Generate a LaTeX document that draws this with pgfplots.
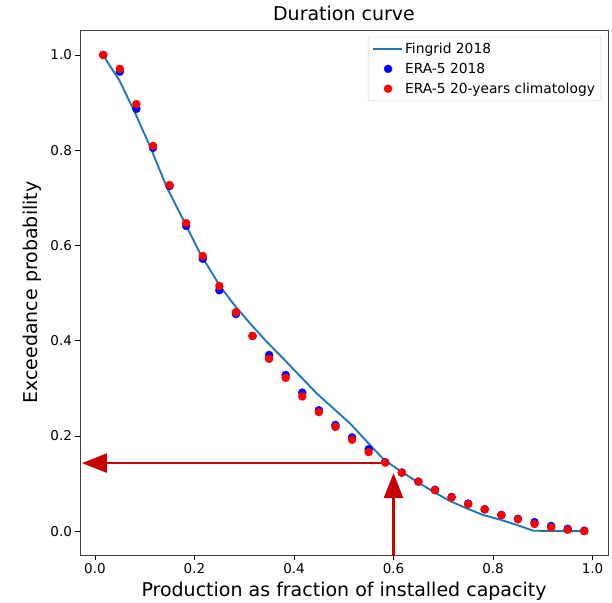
\documentclass[border=0pt]{standalone}
\usepackage{fontspec}
\setmainfont{DejaVu Sans}
\usepackage{pgfplots}
\pgfplotsset{compat=1.18}
\usetikzlibrary{arrows.meta}
\definecolor{mplblue}{HTML}{1F77B4}
\definecolor{arrowred}{RGB}{200,0,0}
\pgfplotsset{
  linelegend/.style={legend image code/.code={\draw[##1] (0pt,0pt) -- (29pt,0pt);}},
  dotlegend/.style={legend image code/.code={\path[draw=none] (0pt,0pt) -- (29pt,0pt); \draw[##1, draw=none] plot coordinates {(15pt,0pt)};}},
}

\begin{document}
\begin{tikzpicture}[x=1pt,y=1pt]
\useasboundingbox (-80,-47) rectangle (532,555);
\begin{axis}[
  at={(0,0)}, anchor=south west,
  scale only axis, width=528pt, height=525pt,
  xmin=-0.03, xmax=1.031, ymin=-0.05, ymax=1.0525,
  xtick={0,0.2,0.4,0.6,0.8,1.0},
  ytick={0,0.2,0.4,0.6,0.8,1.0},
  xtick pos=bottom, ytick pos=left,
  tick align=outside, major tick length=4.5pt,
  tick style={black, line width=0.8pt},
  axis line style={black!75, line width=0.9pt},
  /pgf/number format/assume math mode=true,
  /pgf/number format/.cd, fixed, fixed zerofill, precision=1, /pgfplots/.cd,
  tick label style={font=\fontsize{13.5}{16}\selectfont},
  title={Duration curve},
  title style={font=\fontsize{19}{23}\selectfont, at={(axis description cs:0.5,1)}, anchor=south, yshift=0pt},
  xlabel={Production as fraction of installed capacity},
  ylabel={Exceedance probability},
  xlabel style={font=\fontsize{19}{23}\selectfont, at={(axis description cs:0.5,0)}, anchor=base, yshift=-41pt},
  ylabel style={font=\fontsize{19}{23}\selectfont, at={(axis description cs:0,0.5)}, anchor=base, yshift=42pt},
  legend style={at={(0.987,0.987)}, anchor=north east, draw=black!20, rounded corners=2pt,
    font=\fontsize{13.8}{16}\selectfont, row sep=4pt, inner sep=4pt,
    /tikz/every even column/.append style={column sep=3pt}},
  legend cell align=left,
]
\addplot[mplblue, line width=1.9pt, linelegend] coordinates {
  (0.016,1.0) (0.049,0.947) (0.080,0.880) (0.114,0.800) (0.144,0.723) (0.178,0.653)
  (0.211,0.584) (0.251,0.515) (0.280,0.475) (0.312,0.436) (0.345,0.398) (0.378,0.363)
  (0.412,0.326) (0.446,0.289) (0.480,0.257) (0.513,0.226) (0.536,0.200) (0.559,0.174)
  (0.581,0.150) (0.613,0.127) (0.647,0.104) (0.68,0.083) (0.714,0.063) (0.747,0.048)
  (0.780,0.034) (0.815,0.024) (0.848,0.013) (0.881,0.001) (0.95,0.0) (0.983,0.0)
};
\addlegendentry{Fingrid 2018}
\addplot[only marks, mark=*, mark size=4pt, color=blue, dotlegend] coordinates {
  (0.0167,1.0) (0.05,0.965) (0.0833,0.887) (0.1167,0.805) (0.15,0.725) (0.1833,0.641)
  (0.2167,0.572) (0.25,0.506) (0.2833,0.456) (0.3167,0.410) (0.35,0.370) (0.3833,0.328)
  (0.4167,0.291) (0.45,0.254) (0.4833,0.223) (0.5167,0.197) (0.55,0.172) (0.5833,0.145)
  (0.6167,0.123) (0.65,0.104) (0.6833,0.087) (0.7167,0.072) (0.75,0.058) (0.7833,0.046)
  (0.8167,0.034) (0.85,0.026) (0.8833,0.019) (0.9167,0.011) (0.95,0.005) (0.9833,0.001)
};
\addlegendentry{ERA-5 2018}
\addplot[only marks, mark=*, mark size=4pt, color=red, dotlegend] coordinates {
  (0.0167,1.0) (0.05,0.971) (0.0833,0.897) (0.1167,0.809) (0.15,0.727) (0.1833,0.647)
  (0.2167,0.578) (0.25,0.515) (0.2833,0.460) (0.3167,0.410) (0.35,0.362) (0.3833,0.322)
  (0.4167,0.283) (0.45,0.250) (0.4833,0.219) (0.5167,0.192) (0.55,0.166) (0.5833,0.144)
  (0.6167,0.123) (0.65,0.104) (0.6833,0.086) (0.7167,0.071) (0.75,0.057) (0.7833,0.046)
  (0.8167,0.034) (0.85,0.025) (0.8833,0.015) (0.9167,0.008) (0.95,0.003) (0.9833,0.0)
};
\addlegendentry{ERA-5 20-years climatology}
\draw[arrowred, line width=2.5pt, -{Triangle[width=19pt,length=25pt]}]
  (axis cs:0.58,0.143) -- (axis cs:-0.026,0.143);
\draw[arrowred, line width=2.5pt, -{Triangle[width=19pt,length=25pt]}]
  (axis cs:0.6,-0.06) -- (axis cs:0.6,0.122);
\end{axis}
\end{tikzpicture}
\end{document}
